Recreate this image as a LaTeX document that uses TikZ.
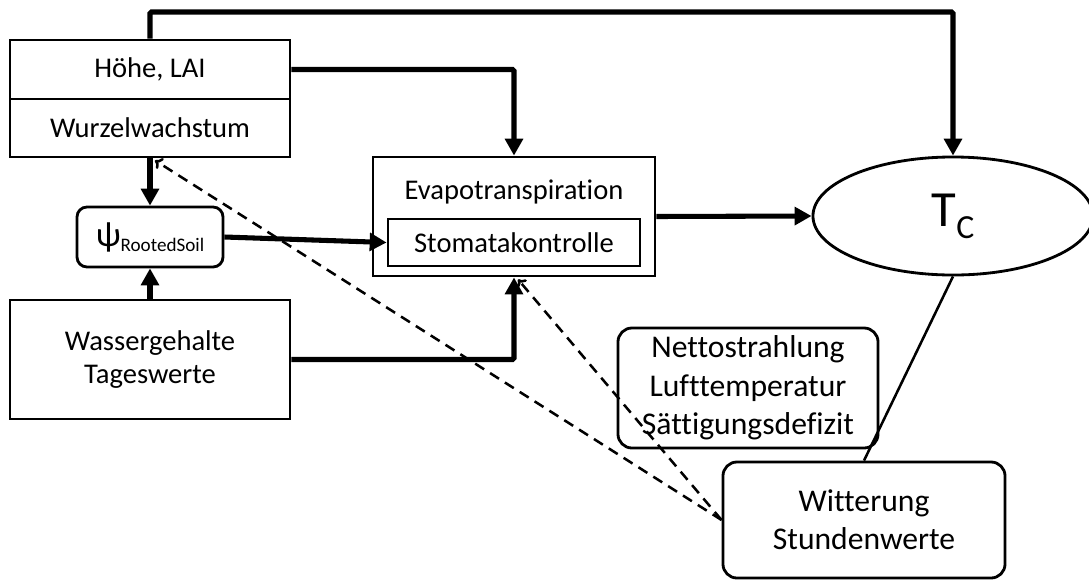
\documentclass[tikz,border=0pt]{standalone}
\usepackage{fontspec}
\setmainfont{Carlito}[Ligatures=NoCommon]
\usetikzlibrary{shapes.geometric, arrows.meta}

\tikzset{
	kasten/.style={draw, line width=2pt, inner sep=0pt, align=center, font=\fontsize{20.3}{23.5}\selectfont},
	rkasten/.style={kasten, rounded corners=0.35cm, font=\fontsize{22.5}{27.3}\selectfont},
	fluss/.style={line width=3.6pt, -{Triangle[length=12pt,width=12.5pt]}},
	wetter/.style={line width=1.8pt, dash pattern=on 7.5pt off 5pt, -{To[length=5pt,width=9pt]}},
}

\begin{document}
\begin{tikzpicture}[x=0.025cm, y=-0.025cm]
	\useasboundingbox (0,0) rectangle (1089,579);

	\node (hoehe) at (150,69.5) [kasten, minimum width=7cm, minimum height=1.475cm] {H\"ohe, LAI};
	\node (wurzel) at (150,128) [kasten, minimum width=7cm, minimum height=1.45cm] {Wurzelwachstum};
	\node (psi) at (150,237) [kasten, rounded corners=0.25cm, minimum width=3.65cm, minimum height=1.5cm]
		{\fontsize{25}{26}\selectfont ψ\raisebox{-0.3ex}{\fontsize{13.6}{16}\selectfont RootedSoil}};
	\node (wasser) at (150,359.5) [kasten, minimum width=7cm, minimum height=2.975cm] {Wassergehalte\\Tageswerte};

	\node (evap) at (514,216.5) [kasten, minimum width=7.05cm, minimum height=2.975cm,
		label={[anchor=north, yshift=-0.48cm, font=\fontsize{20.3}{24}\selectfont]north:Evapotranspiration}] {};
	\node (stoma) at (514,242.5) [kasten, minimum width=6.3cm, minimum height=1.175cm] {Stomatakontrolle};

	\node (tc) at (953,216) [ellipse, draw, line width=2pt, inner sep=0pt, minimum width=7cm, minimum height=2.95cm]
		{\fontsize{36}{40}\selectfont T\raisebox{-0.5ex}{\fontsize{24}{26}\selectfont C}};

	\node (netto) at (748,388) [rkasten, minimum width=6.5cm, minimum height=3cm] {Nettostrahlung\\Lufttemperatur\\S\"attigungsdefizit};
	\node (witt) at (864,520) [rkasten, minimum width=7.05cm, minimum height=2.9cm] {Witterung\\Stundenwerte};

	\coordinate (oben) at (0,12);

	% Bestand -> Verdunstung / Bestandstemperatur
	\draw[fluss, rounded corners=1pt] (hoehe.north) -- (hoehe.north |- oben) -| (tc.north);
	\draw[fluss, rounded corners=1pt] (hoehe.east) -| (evap.north);
	\draw[fluss] (wurzel.south) -- (psi.north);
	\draw[fluss] (wasser.north) -- (psi.south);
	\draw[fluss] (psi.east) -- (stoma.west);
	\draw[fluss, rounded corners=1pt] (wasser.east) -| (evap.south);
	\draw[fluss] (evap.east) -- (tc.west);

	% Witterung
	\draw[line width=1.8pt] (tc.south) -- (witt.north);
	\draw[wetter] (witt.west) -- ([xshift=0.125cm, yshift=-0.05cm]wurzel.south);
	\draw[wetter] (witt.west) -- ([xshift=0.1cm, yshift=-0.05cm]evap.south);
\end{tikzpicture}
\end{document}
